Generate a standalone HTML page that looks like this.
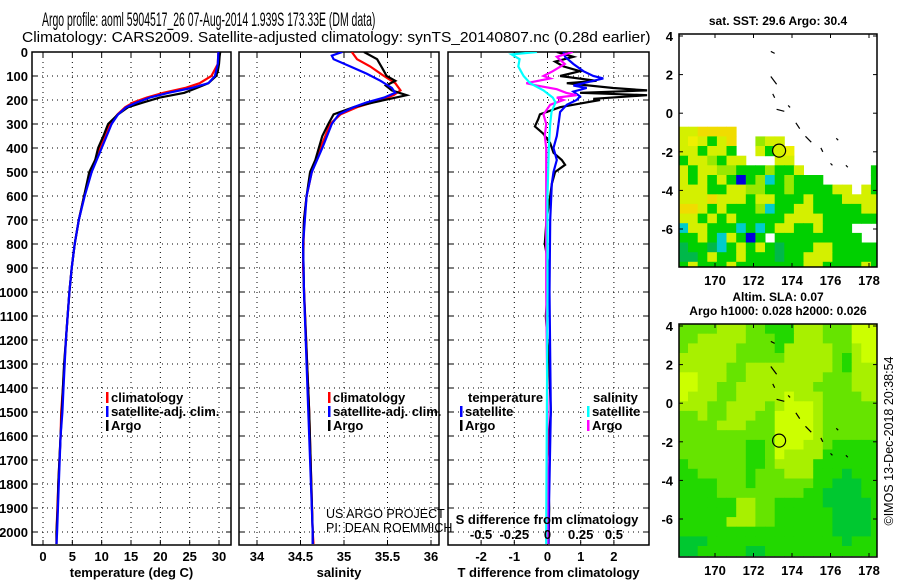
<!DOCTYPE html>
<html><head><meta charset="utf-8"><style>
html,body{margin:0;padding:0;background:#fff;}
svg{display:block;font-family:"Liberation Sans",sans-serif;}
</style></head><body>
<svg id="fig" width="900" height="580" viewBox="0 0 900 580" xmlns="http://www.w3.org/2000/svg">
<text transform="translate(42,26) scale(0.55,1)" x="0" y="0" font-size="19">Argo profile: aoml 5904517_26 07-Aug-2014 1.939S 173.33E (DM data)</text>
<text transform="translate(22,42) scale(1.035,1)" x="0" y="0" font-size="15">Climatology: CARS2009. Satellite-adjusted climatology: synTS_20140807.nc (0.28d earlier)</text>
<g id="layer"></g>
</svg>
<script>
// ---------- DATA ----------
const depthTicks=[0,100,200,300,400,500,600,700,800,900,1000,1100,1200,1300,1400,1500,1600,1700,1800,1900,2000];
const tempTicks=[0,5,10,15,20,25,30];
const salTicks=[34,34.5,35,35.5,36];
const tdiffTicks=[-2,-1,0,1,2];
const sdiffTicks=[-0.5,-0.25,0,0.25,0.5];
const lonTicks=[170,172,174,176,178];
const latTicks=[4,2,0,-2,-4,-6];

const argoTDepth=[0,20,50,80,100,130,150,170,190,210,230,260,300,350,400,450,500,600,700,800,900,1000,1100,1200,1300,1400,1500,1600,1700,1800,1900,2000,2050];
const argoT=[30.2,30.1,30.0,29.8,29.5,28.2,26.2,24.1,19.9,17.1,14.5,12.8,11.1,10.3,9.4,8.9,7.9,7.0,6.1,5.4,4.9,4.5,4.2,3.9,3.6,3.4,3.2,3.0,2.8,2.6,2.5,2.3,2.3];
const climTDepth=[0,50,100,130,150,170,190,210,230,260,300,400,500,600,700,800,900,1000,1200,1400,1500,1600,1800,2000,2050];
const climT=[29.9,29.8,28.7,26.7,24.2,20.5,17.7,15.4,14.0,12.7,11.4,9.7,8.1,7.0,6.1,5.4,4.9,4.5,3.9,3.4,3.1,3.0,2.6,2.3,2.3];
const satTDepth=[0,50,100,130,150,170,190,210,230,260,300,400,500,600,700,800,900,1000,1200,1400,1500,1600,1800,2000,2050];
const satT=[29.9,29.8,29.3,28.2,25.3,21.4,18.2,16.0,14.2,12.8,11.7,10.0,8.3,7.1,6.1,5.4,4.9,4.5,3.9,3.5,3.3,3.0,2.7,2.4,2.3];

const argoSDepth=[0,30,80,100,120,140,160,180,195,210,230,260,300,350,400,450,500,600,700,800,1000,1500,2000,2050];
const argoS=[35.23,35.38,35.46,35.49,35.59,35.48,35.55,35.72,35.53,35.34,35.11,34.88,34.82,34.75,34.71,34.67,34.61,34.57,34.54,34.53,34.54,34.6,34.64,34.64];
const climSDepth=[0,30,60,100,130,160,180,200,230,260,300,400,500,600,700,900,1500,2000,2050];
const climS=[35.09,35.15,35.30,35.46,35.59,35.65,35.57,35.42,35.15,34.96,34.84,34.73,34.63,34.57,34.54,34.53,34.6,34.64,34.65];
const satSDepth=[0,15,30,60,90,120,150,170,190,210,230,260,300,400,500,600,800,1000,1500,2000,2050];
const satS=[34.98,34.86,34.88,35.07,35.26,35.42,35.55,35.59,35.46,35.26,35.11,34.94,34.86,34.75,34.63,34.57,34.53,34.54,34.59,34.64,34.64];

const argoTdDepth=[0,20,40,60,80,100,120,130,150,160,170,180,195,200,215,230,260,280,310,340,380,420,450,470,500,550,600,700,800,900,1100,1300,1500,1700,1900,2050];
const argoTd=[0.28,0.78,0.23,0.48,0.98,0.38,1.48,0.58,1.98,3.0,0.98,3.0,1.38,1.58,0.98,0.38,-0.23,-0.28,-0.38,-0.13,0.08,0.18,0.43,0.53,0.23,0.13,0.08,-0.03,-0.08,0.05,-0.05,0.05,0.1,0.0,0.05,0.03];
const satTdDepth=[0,20,50,80,100,110,120,140,150,165,185,200,220,250,300,350,400,450,500,550,700,1000,1500,2000,2050];
const satTd=[0.48,0.53,0.78,1.08,1.38,1.68,1.38,0.78,1.18,0.78,0.98,0.88,0.58,0.38,0.33,0.28,0.18,0.28,0.18,0.13,0.08,0.06,0.1,0.03,0.03];
const argoSdDepth=[0,20,50,80,100,110,130,140,155,170,180,190,200,220,260,300,350,400,1000,1500,2000,2050];
const argoSd=[0.19,0.07,0.13,0.04,-0.03,0.02,-0.16,-0.08,0.07,0.14,0.22,0.07,0.12,0.02,-0.03,-0.01,-0.02,-0.01,-0.01,0.0,0.0,0.0];
const satSdDepth=[0,10,30,60,80,100,130,160,190,210,250,300,400,600,1000,2000,2050];
const satSd=[-0.08,-0.27,-0.21,-0.22,-0.2,-0.18,-0.13,-0.03,0.04,0.06,0.03,0.02,0.01,0.0,0.0,-0.01,-0.01];

// SST map grid rows (0.5 deg), starting lat -0.7, lon 168.1; '.' = no data
const sstRows=[
"yyoooo...............",
"yYyGyo..gyy..........",
"yyGyyG..yGgY.........",
"GyygGyy...yy.........",
"yGyyggGGGgGGy.......G",
"yGyGyGbGgcGgGGG.....G",
"yyyGGyyggGGgGGGGyy.yG",
"yyyoyyyGyyGGGyGGGyyyy",
"ooyGyGGGgcGGyyGGGGGyy",
"yyGyGyGGGGGyyyyGGGGGG",
"cyyGGGcGcGyyGGyGGG...",
"GGyGcyGbG.GGGGGGGGG..",
"DGGDcGyGyGDGGGyyGGGGG",
"DDGyGGyGGGDGGyyyGGGGG",
"GyGGGyGGGGGGGyyGGGGyG"];
// SLA map grid rows (0.5 deg), starting lat 4.1, lon 168.1; 1=high .. 5=low
const slaRows=[
"333322233444222333111","332222233344222333111","322222333342222233211","222222333332222234211",
"222223322222222234222","112223322222222333222","112233222222223333222","122233222221222333322",
"222332222321112333333","332332223311112333333","333322233311112333333","333333333311112333333",
"333333344311122344444","333333344312222444444","433333344322224444444","443333343332224445444",
"444433343333334455544","444433333333344555544","444444223344444555554","444444223344444455554",
"444442223344444455554","444444444444444455554","555444444444444445444","554444455444444444444"];
const argoLon=173.33, argoLat=-1.94;

// ---------- DRAWING ----------
const NS='http://www.w3.org/2000/svg';
const L=document.getElementById('layer');
function mk(tag,attrs,parent){const e=document.createElementNS(NS,tag);for(const k in attrs)e.setAttribute(k,attrs[k]);(parent||L).appendChild(e);return e;}
function txt(x,y,s,size,anchor,weight,parent){const t=mk('text',{x:x,y:y,'font-size':size,'text-anchor':anchor||'start','font-weight':weight||'bold'},parent);t.textContent=s;return t;}

const PT=52, PB=545;
const yD=d=>52+d*0.24;
const panels=[
 {x0:32,x1:231,sx:v=>43+v*5.867,ticks:tempTicks,label:'temperature (deg C)',name:'temperature-panel'},
 {x0:239,x1:439,sx:v=>257+(v-34)*87,ticks:salTicks,label:'salinity',name:'salinity-panel'},
 {x0:448,x1:649,sx:v=>547.5+v*33.2,ticks:tdiffTicks,label:'T difference from climatology',name:'difference-panel'}
];
const sxS=v=>547.5+v*4*33.2;
panels.forEach((p,i)=>{const c=mk('clipPath',{id:'clip'+i});mk('rect',{x:p.x0,y:PT,width:p.x1-p.x0,height:PB-PT},c);});

depthTicks.forEach(d=>{const t=txt(28,yD(d)+5,String(d),13,'end');

});

panels.forEach((p,i)=>{
 const g=mk('g',{});
 
 
 depthTicks.forEach(d=>{if(d>0)mk('line',{x1:p.x0,x2:p.x1,y1:yD(d),y2:yD(d),stroke:'#000','stroke-width':1,'stroke-dasharray':'1 4'},g);
   mk('line',{x1:p.x0,x2:p.x0+5,y1:yD(d),y2:yD(d),stroke:'#000'},g);mk('line',{x1:p.x1-5,x2:p.x1,y1:yD(d),y2:yD(d),stroke:'#000'},g);});
 p.ticks.forEach(v=>{const x=p.sx(v);
   mk('line',{x1:x,x2:x,y1:PT,y2:PB,stroke:'#000','stroke-dasharray':'1 4'},g);
   mk('line',{x1:x,x2:x,y1:PB-5,y2:PB,stroke:'#000'},g);mk('line',{x1:x,x2:x,y1:PT,y2:PT+5,stroke:'#000'},g);
   const t=txt(x,561,String(v),13,'middle');
   
   });
 mk('rect',{x:p.x0,y:PT,width:p.x1-p.x0,height:PB-PT,fill:'none',stroke:'#000','stroke-width':1.5},g);
 const xl=txt((p.x0+p.x1)/2,577,p.label,13,'middle');
 
 
});

function series(depths,vals,sx,color,clipi,name){
 const d=vals.map((v,i)=>(i?'L':'M')+sx(v).toFixed(1)+' '+yD(depths[i]).toFixed(1)).join(' ');
 const p=mk('path',{d:d,fill:'none',stroke:color,'stroke-width':2.2,'clip-path':'url(#clip'+clipi+')'});
 
 
}
series(climTDepth,climT,panels[0].sx,'#ff0000',0,'climatology-temperature-line');
series(argoTDepth,argoT,panels[0].sx,'#000000',0,'argo-temperature-line');
series(satTDepth,satT,panels[0].sx,'#0000ff',0,'satellite-temperature-line');
series(climSDepth,climS,panels[1].sx,'#ff0000',1,'climatology-salinity-line');
series(argoSDepth,argoS,panels[1].sx,'#000000',1,'argo-salinity-line');
series(satSDepth,satS,panels[1].sx,'#0000ff',1,'satellite-salinity-line');
series(argoTdDepth,argoTd,panels[2].sx,'#000000',2,'argo-temp-diff-line');
series(satTdDepth,satTd,panels[2].sx,'#0000ff',2,'satellite-temp-diff-line');
series(argoSdDepth,argoSd,sxS,'#ff00ff',2,'argo-sal-diff-line');
series(satSdDepth,satSd,sxS,'#00ffff',2,'satellite-sal-diff-line');

const sdl=txt(547,524,'S difference from climatology',13,'middle');


const sdLabels=['-0.5','-0.25','0','0.25','0.5'];
sdiffTicks.forEach((v,i)=>{const t=txt(sxS(v),539,sdLabels[i],13,'middle');

});

function legItem(x,y,color,label,name){const g=mk('g',{});
 
 
 mk('rect',{x:x,y:y-10,width:2.5,height:11,fill:color},g);txt(x+5,y,label,13,'start','bold',g);}
legItem(106,402,'#ff0000','climatology','legend-climatology-t');
legItem(106,416,'#0000ff','satellite-adj. clim.','legend-satellite-t');
legItem(106,430,'#000000','Argo','legend-argo-t');
legItem(328,402,'#ff0000','climatology','legend-climatology-s');
legItem(328,416,'#0000ff','satellite-adj. clim.','legend-satellite-s');
legItem(328,430,'#000000','Argo','legend-argo-s');
const lt=txt(468,402,'temperature',13);
legItem(460,416,'#0000ff','satellite','legend-satellite-tdiff');
legItem(460,430,'#000000','Argo','legend-argo-tdiff');
const ls=txt(593,402,'salinity',13);
legItem(587,416,'#00ffff','satellite','legend-satellite-sdiff');
legItem(587,430,'#ff00ff','Argo','legend-argo-sdiff');
const c1=txt(326,518,'US ARGO PROJECT',12.5,'start','normal');
const c2=txt(326,532,'PI: DEAN ROEMMICH',12.5,'start','normal');

// ---------- MAPS ----------
const MX0=679,MX1=877;
const lonX=lon=>715+(lon-170)*19.25;
const sstColors={y:'#d4f000',Y:'#eef000',o:'#f0dc00',g:'#99e800',G:'#00d000',D:'#00b84a',c:'#00cccc',b:'#0000dd'};
const slaColors={'1':'#ccff00','2':'#a8f000','3':'#66e400','4':'#22d800','5':'#00c830'};
function drawMap(top,bot,lat4y,rows,colors,lat0,name,title){
 const latY=lat=>lat4y+(4-lat)*19.3;
 const g=mk('g',{});
 
 
 const cid='clip'+name;const c=mk('clipPath',{id:cid});mk('rect',{x:MX0,y:top,width:MX1-MX0,height:bot-top},c);
 const cg=mk('g',{'clip-path':'url(#'+cid+')'},g);
 rows.forEach((r,ri)=>{for(let ci=0;ci<r.length;ci++){const ch=r[ci];if(!colors[ch])continue;
   const lon=168.1+ci*0.5, lat=lat0-ri*0.5;
   const cell=mk('rect',{x:lonX(lon).toFixed(1),y:latY(lat).toFixed(1),width:(0.5*19.25+0.5).toFixed(1),height:(0.5*19.3+0.5).toFixed(1),fill:colors[ch]},cg);
   
   }});
 const coast=[[172.9,3.2,173.1,3.1],[172.9,1.9,173.2,1.5],[173.0,1.0,173.1,0.8],[173.2,0.2,173.6,0.1],[173.8,0.4,173.9,0.3],[174.2,-0.5,174.4,-0.8],[174.7,-1.2,175.0,-1.5],[175.5,-1.8,175.6,-2.0],[176.3,-1.3,176.4,-1.4],[176.0,-2.6,176.1,-2.7],[176.8,-2.7,176.9,-2.8]];
 coast.forEach(s=>mk('line',{x1:lonX(s[0]),y1:latY(s[1]),x2:lonX(s[2]),y2:latY(s[3]),stroke:'#000','stroke-width':1.2},cg));
 const circ=mk('circle',{cx:lonX(argoLon),cy:latY(argoLat),r:6.5,fill:name==='sst-map'?'#d4f000':'none',stroke:'#000','stroke-width':1.2},g);
 
 
 mk('rect',{x:MX0,y:top,width:MX1-MX0,height:bot-top,fill:'none',stroke:'#000','stroke-width':1.5},g);
 lonTicks.forEach(v=>{const x=lonX(v);mk('line',{x1:x,x2:x,y1:top,y2:top+4,stroke:'#000'},g);mk('line',{x1:x,x2:x,y1:bot-4,y2:bot,stroke:'#000'},g);
   const t=txt(x,bot+18,String(v),13,'middle','bold',g);
   
   });
 latTicks.forEach(v=>{const y=latY(v);mk('line',{x1:MX0,x2:MX0+4,y1:y,y2:y,stroke:'#000'},g);mk('line',{x1:MX1-4,x2:MX1,y1:y,y2:y,stroke:'#000'},g);
   const t=txt(673,y+5,String(v),13,'end','bold',g);
   
   });
 title.forEach((s,i)=>{const t=txt(778,s[1],s[0],12,'middle','bold',g);
   
   });
}
drawMap(34,267,36,sstRows,sstColors,-0.7,'sst-map',[['sat. SST: 29.6 Argo: 30.4',25]]);
drawMap(324,557,326,slaRows,slaColors,4.1,'sla-map',[['Altim. SLA: 0.07',301],['Argo h1000: 0.028 h2000: 0.026',315]]);
const cr=txt(0,0,'©IMOS 13-Dec-2018 20:38:54',12.5,'middle','normal');
cr.setAttribute('transform','translate(893,441) rotate(-90)');


</script>
</body></html>
